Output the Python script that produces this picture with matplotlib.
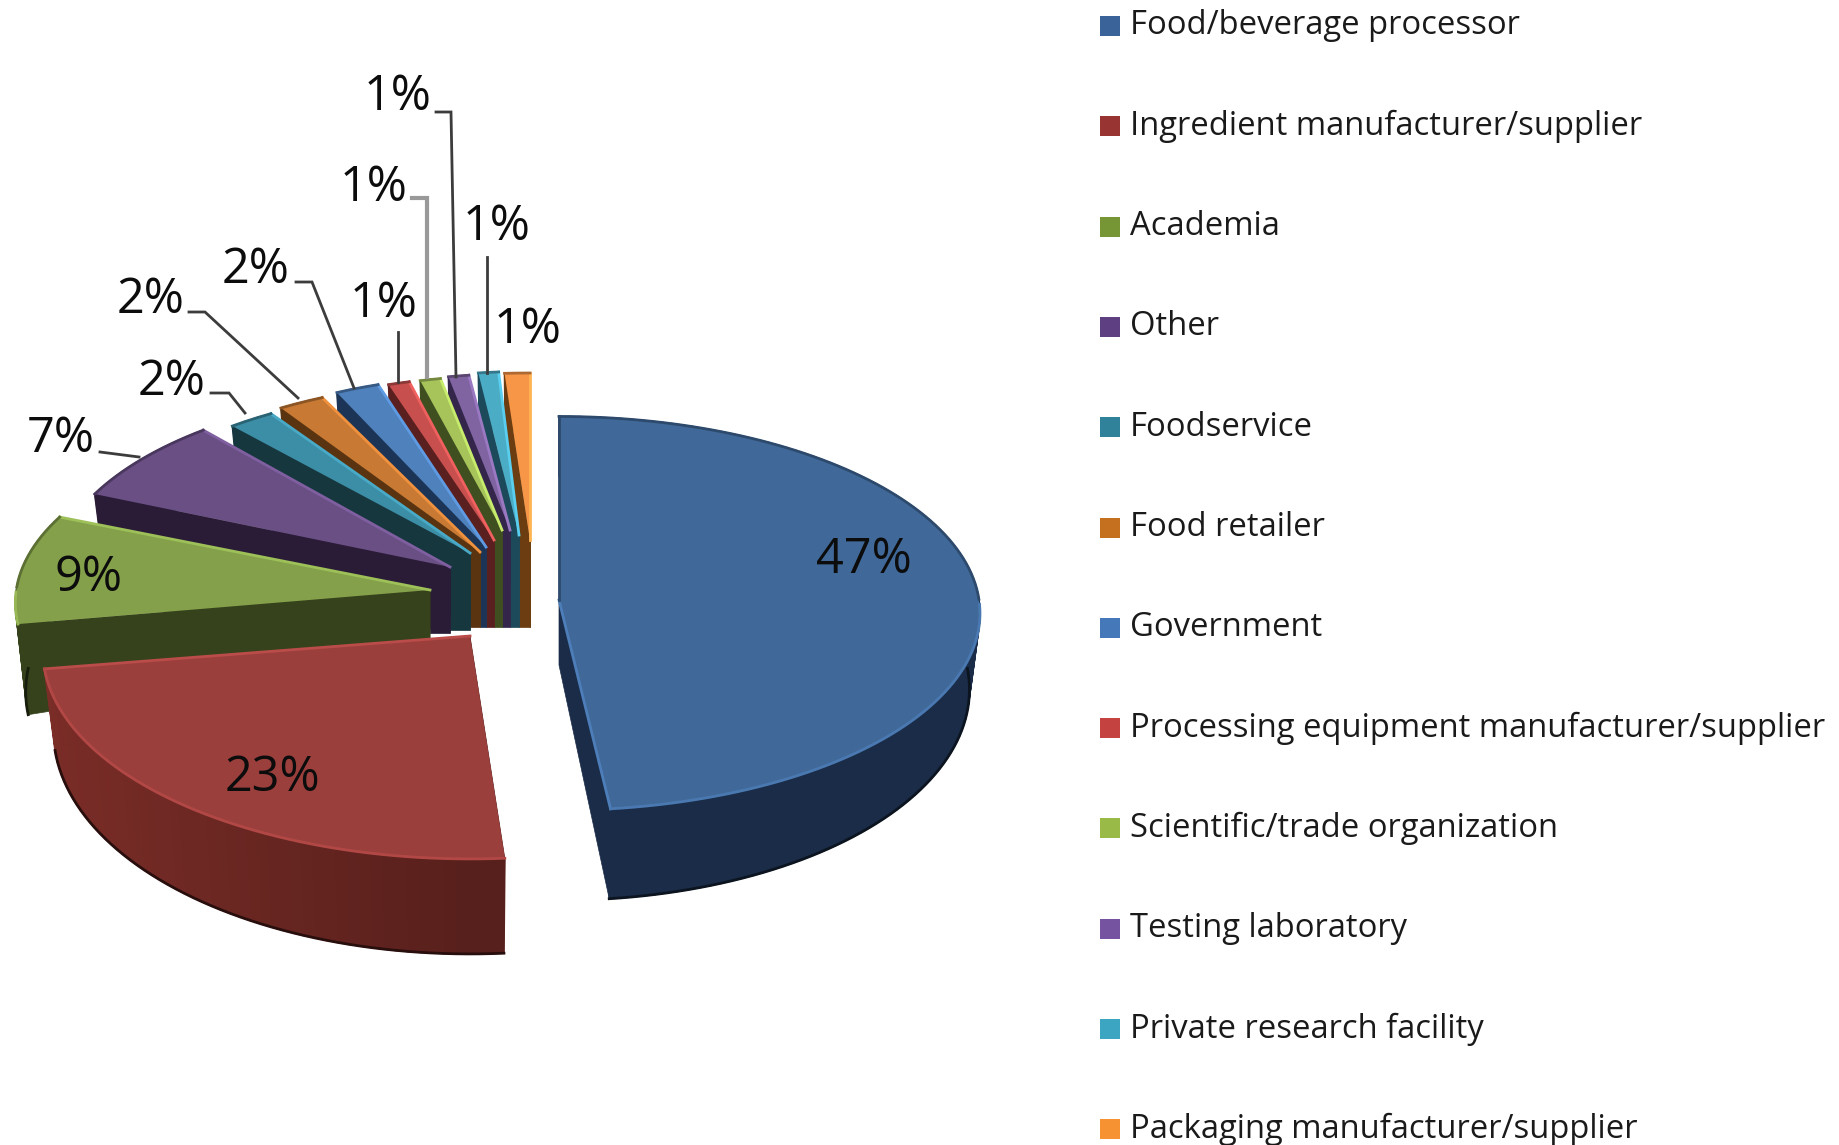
import numpy as np
import matplotlib
matplotlib.use("Agg")
import matplotlib.pyplot as plt
from matplotlib.patches import Rectangle

plt.rcParams['font.family'] = ['Open Sans', 'DejaVu Sans']

categories = ['Food/beverage processor', 'Ingredient manufacturer/supplier', 'Academia', 'Other',
              'Foodservice', 'Food retailer', 'Government',
              'Processing equipment manufacturer/supplier', 'Scientific/trade organization',
              'Testing laboratory', 'Private research facility', 'Packaging manufacturer/supplier']
percent = [47, 23, 9, 7, 2, 2, 2, 1, 1, 1, 1, 1]

top_colors = ['#40699a', '#9b3f3d', '#84a04a', '#6a4f85', '#3c8ea6', '#c87934',
              '#4f81bd', '#c7504e', '#a6c45a', '#8064a2', '#4bacc6', '#f79646']
wall_colors = ['#1a2c48', '#58201c', '#35421b', '#2a1c36', '#17373f', '#5a3410',
               '#1c3557', '#5a2020', '#3f4f20', '#33264a', '#1c4a5a', '#6b3d10']
swatch_colors = ['#3a6399', '#983533', '#769535', '#5e3f82', '#2f8299', '#c5701f',
                 '#4478b8', '#c44340', '#9aba48', '#7553a0', '#3ca6c2', '#f79233']

# where each exploded slice sits, pixels of the picture
apex_x = [559, 470, 430, 450, 470, 480, 486, 494, 502, 510, 519, 530]
apex_y = [600, 636, 590, 567, 553, 552, 547, 540, 530, 530, 535, 540]
scale_x = [1.0, 1.015, 0.985, 0.945, 0.91, 0.91, 0.86, 0.84, 0.81, 0.81, 0.80, 1.0]
scale_y = [1.0, 1.06, 0.97, 0.97, 0.90, 0.93, 0.93, 0.89, 0.84, 0.85, 0.89, 0.91]
apex_depth = [65, 70, 60, 66, 77, 75, 80, 87, 97, 97, 92, 87]
rim_depth = [90, 95, 105, 90, 85, 85, 85, 85, 85, 85, 85, 85]
# perspective bends the cut edges a little, degrees
start_turn = [0, 1.2, 0, 0, 0, 0, 0, 0, 0, 0, 0, 0]
end_turn = [-1, 1.2, 0, 0, 0, 0, 0, 0, 0, 0, 0, 0]

label_x = [864, 272, 89, 61, 172, 151, 256, 384, 374, 398, 497, 528]
label_y = [560, 778, 578, 439, 382, 300, 270, 304, 188, 97, 227, 330]

# leader lines, label index -> bent line
leaders = {
    3: ([100, 139], [452, 457]),
    4: ([211, 229, 245], [393, 393, 413]),
    5: ([189, 205, 298], [312, 312, 398]),
    6: ([296, 312, 354], [282, 282, 388]),
    7: ([398, 398], [332, 382]),
    8: ([412, 427, 427], [198, 198, 377]),
    9: ([436, 451, 456], [112, 112, 377]),
    10: ([487, 487], [257, 373]),
}

RX = 420
RY = 196
PERSP = 0.068


def shade(color, f):
    rgb = np.array(matplotlib.colors.to_rgb(color)) * f
    return tuple(np.clip(rgb, 0, 1))


def rim_points(i, th):
    s = 1.0 / (1 + PERSP * np.cos(th))
    x = apex_x[i] + scale_x[i] * RX * np.sin(th) * s
    y = apex_y[i] - scale_y[i] * RY * np.cos(th) * s
    return x, y


def draw_slice(ax, i, t1, t2):
    th = np.linspace(t1, t2, max(int(np.degrees(t2 - t1) / 1.5), 3))
    x, y = rim_points(i, th)
    ax0, ay0 = apex_x[i], apex_y[i]
    dep = rim_depth[i] * (1 - 0.2 * np.cos(th)) / 1.2
    xb = ax0 + 0.975 * (x - ax0)
    yb = y + dep
    wall = wall_colors[i]

    # the two cut faces
    for k in (0, -1):
        ax.fill([ax0, x[k], xb[k], ax0], [ay0, y[k], yb[k], ay0 + apex_depth[i]],
                color=wall, lw=0.5)
    # block of the cut face that shows below the point of the slice
    if i >= 3:
        ax.fill([apex_x[i - 1], ax0, ax0, apex_x[i - 1]],
                [ay0, ay0, ay0 + apex_depth[i], ay0 + apex_depth[i]], color=wall, lw=0.5)
    # outer wall, in small pieces so it can change shade (only the red one really does)
    for k in range(len(th) - 1):
        f = 1.0
        if i == 1:
            f = 1 + 0.4 * max(-np.sin(th[k]), 0)
        c = shade(wall, f)
        ax.fill([x[k], x[k + 1], xb[k + 1], xb[k]], [y[k], y[k + 1], yb[k + 1], yb[k]],
                color=c, lw=1.2)
    front = np.cos(th) < 0.05
    ax.plot(xb[front], yb[front], color=shade(wall, 0.45), lw=2)

    # top face
    ax.fill(np.r_[ax0, x], np.r_[ay0, y], color=top_colors[i], lw=0)
    ax.plot([ax0, x[-1]], [ay0, y[-1]], color=shade(top_colors[i], 1.2), lw=2)
    if i == 0:
        ax.plot([ax0, x[0]], [ay0, y[0]], color=shade(top_colors[i], 0.7), lw=2)
    back = np.cos(th) > 0
    ax.plot(x[back], y[back], color=shade(top_colors[i], 0.7), lw=2)
    ax.plot(x[~back], y[~back], color=shade(top_colors[i], 1.15), lw=2)


fig = plt.figure(figsize=(18.39, 11.45), dpi=100)
ax = fig.add_axes([0, 0, 1, 1])
ax.set_xlim(0, 1839)
ax.set_ylim(1145, 0)
ax.axis('off')

edges = np.r_[0, np.cumsum(percent)] / np.sum(percent) * 360

for i in [0] + list(range(len(percent) - 1, 0, -1)):
    draw_slice(ax, i, np.radians(edges[i] + start_turn[i]), np.radians(edges[i + 1] + end_turn[i]))

for i, (lx, ly) in leaders.items():
    c = '#999999' if i == 8 else '#3c3c3c'
    ax.plot(lx, ly, color=c, lw=3 if i == 8 else 2, solid_joinstyle='miter')

for i, p in enumerate(percent):
    ax.text(label_x[i], label_y[i], f'{p}%', fontsize=35, color='#0c0c0c', ha='center', va='center')

for i, name in enumerate(categories):
    y = 26 + i * 100.3
    ax.add_patch(Rectangle((1100, y - 10), 20, 20, facecolor=swatch_colors[i], edgecolor='none'))
    ax.text(1130, y, name, fontsize=23.6, color='#1a1a1a', va='center', ha='left')

fig.savefig('out.png', dpi=100)
